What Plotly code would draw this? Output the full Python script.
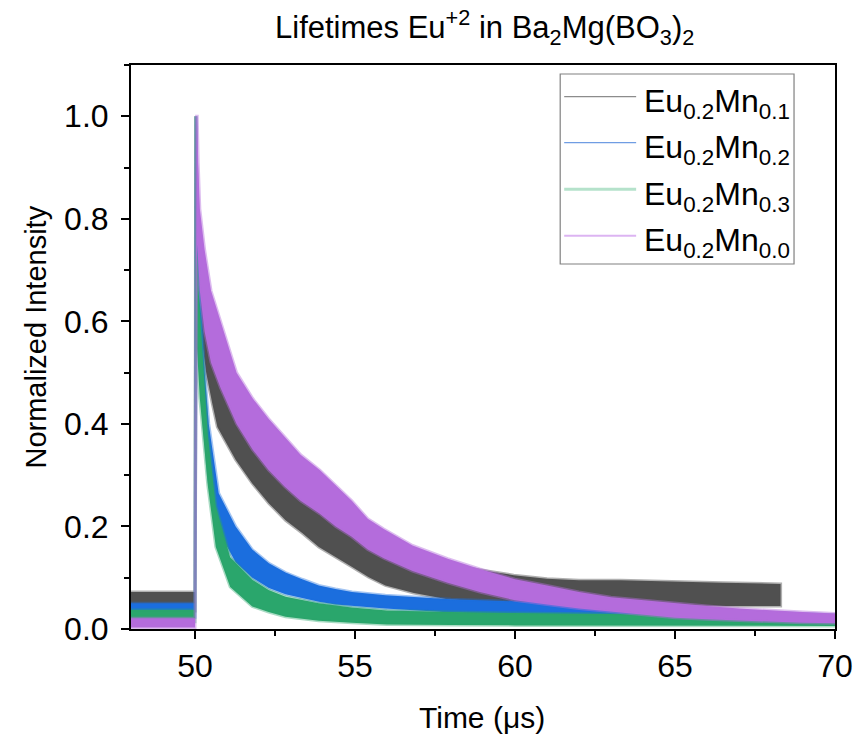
import plotly.graph_objects as go

# ---- data (envelopes of each noisy decay band) ----
LABELS = ["Eu<sub>0.2</sub>Mn<sub>0.1</sub>", "Eu<sub>0.2</sub>Mn<sub>0.2</sub>",
          "Eu<sub>0.2</sub>Mn<sub>0.3</sub>", "Eu<sub>0.2</sub>Mn<sub>0.0</sub>"]

T_GREY = [48.0, 50.0, 50.02, 50.04, 50.1, 50.2, 50.35, 50.54, 50.7, 51.27, 51.79, 52.31, 52.83,
          53.35, 53.87, 54.39, 54.91, 55.43, 55.95, 56.84, 57.88, 58.92, 59.96, 61.0, 62.0,
          63.3, 65.0, 66.5, 68.3]
GREY_HI = [0.072, 0.072, 1.0, 0.92, 0.80, 0.72, 0.65, 0.58, 0.53, 0.43, 0.38, 0.335, 0.295,
           0.265, 0.24, 0.215, 0.195, 0.178, 0.16, 0.14, 0.125, 0.115, 0.105, 0.098, 0.095,
           0.095, 0.092, 0.09, 0.088]
GREY_LO = [0.035, 0.035, 0.55, 0.6, 0.62, 0.57, 0.50, 0.44, 0.394, 0.33, 0.284, 0.245, 0.212,
           0.187, 0.16, 0.14, 0.121, 0.101, 0.085, 0.07, 0.058, 0.054, 0.052, 0.05, 0.049,
           0.047, 0.046, 0.045, 0.045]

T_BLUE = [48.0, 50.0, 50.03, 50.06, 50.15, 50.28, 50.43, 50.74, 51.27, 51.79, 52.31, 52.83,
          53.35, 53.87, 54.39, 54.91, 55.95, 58.0, 60.0, 62.0, 64.0, 66.0, 68.0, 70.0]
BLUE_HI = [0.05, 0.05, 1.0, 0.80, 0.68, 0.52, 0.40, 0.265, 0.20, 0.155, 0.128, 0.11, 0.097,
           0.085, 0.078, 0.072, 0.066, 0.058, 0.054, 0.048, 0.042, 0.036, 0.032, 0.028]
BLUE_LO = [0.023, 0.023, 0.55, 0.60, 0.52, 0.40, 0.29, 0.19, 0.13, 0.10, 0.08, 0.068, 0.06,
           0.053, 0.048, 0.045, 0.04, 0.032, 0.028, 0.025, 0.022, 0.02, 0.019, 0.018]

T_GREEN = [48.0, 50.0, 50.03, 50.06, 50.15, 50.4, 50.65, 51.1, 51.79, 52.3, 52.83, 53.87,
           54.9, 56.0, 58.0, 60.0, 65.0, 70.0]
GREEN_HI = [0.037, 0.037, 1.0, 0.75, 0.62, 0.38, 0.24, 0.14, 0.096, 0.076, 0.063, 0.05,
            0.042, 0.036, 0.033, 0.031, 0.028, 0.027]
GREEN_LO = [0.014, 0.014, 0.5, 0.55, 0.45, 0.28, 0.16, 0.082, 0.044, 0.033, 0.024, 0.016,
            0.012, 0.009, 0.008, 0.007, 0.006, 0.006]

T_PURPLE = [48.0, 50.0, 50.05, 50.07, 50.1, 50.15, 50.3, 50.5, 50.8, 51.0, 51.3, 51.8, 52.3,
            52.8, 53.3, 53.9, 54.4, 54.9, 55.4, 55.9, 56.8, 57.9, 58.9, 60.0, 61.0, 62.0,
            63.0, 64.0, 65.0, 66.0, 67.0, 68.0, 69.0, 70.0]
PURPLE_HI = [0.021, 0.021, 1.0, 1.0, 0.91, 0.82, 0.74, 0.66, 0.60, 0.56, 0.50, 0.45, 0.41,
             0.375, 0.34, 0.31, 0.28, 0.25, 0.215, 0.195, 0.163, 0.137, 0.117, 0.097, 0.085,
             0.072, 0.062, 0.056, 0.05, 0.045, 0.04, 0.036, 0.033, 0.03]
PURPLE_LO = [0.003, 0.003, 0.7, 0.75, 0.72, 0.66, 0.58, 0.52, 0.47, 0.44, 0.40, 0.35, 0.31,
             0.278, 0.25, 0.225, 0.2, 0.18, 0.155, 0.138, 0.113, 0.09, 0.072, 0.056, 0.048,
             0.04, 0.033, 0.028, 0.022, 0.019, 0.016, 0.014, 0.012, 0.011]

X_TICKS = [50, 55, 60, 65, 70]
Y_TICKS = [0.0, 0.2, 0.4, 0.6, 0.8, 1.0]

# ---- styling ----
BAND_COLORS = ["#505050", "#1b6ede", "#2aa66c", "#b46cdc"]
EDGE_COLORS = ["rgba(80,80,80,0.45)", "rgba(27,110,222,0.4)", "rgba(42,166,108,0.4)",
               "rgba(180,108,220,0.45)"]
LEG_COLORS = ["#8c8c8c", "#6f9de3", "#b5e2cb", "#dcb4f2"]
LEG_WIDTHS = [1.2, 1.2, 3, 2]
FONT = "Arial, Liberation Sans, sans-serif"

series = [(T_GREY, GREY_LO, GREY_HI), (T_BLUE, BLUE_LO, BLUE_HI),
          (T_GREEN, GREEN_LO, GREEN_HI), (T_PURPLE, PURPLE_LO, PURPLE_HI)]

fig = go.Figure()
for (t, lo, hi), col, ecol, lab in zip(series, BAND_COLORS, EDGE_COLORS, LABELS):
    fig.add_trace(go.Scatter(
        x=list(t) + list(t)[::-1], y=list(hi) + list(lo)[::-1],
        mode="lines", fill="toself", fillcolor=col,
        line=dict(color=ecol, width=3), name=lab, showlegend=False,
        hoverinfo="skip"))

# manual legend / titles (paper coordinates)
L, R, TOP, BOT = 130.5, 835.0, 65.0, 629.0
def px(x):
    return (x - L) / (R - L)
def py(y):
    return (BOT - y) / (BOT - TOP)

shapes = [dict(type="rect", xref="paper", yref="paper", x0=px(560), x1=px(794),
               y0=py(264), y1=py(74), line=dict(color="#808080", width=1.2),
               fillcolor="white", layer="above")]
annotations = []
rows = [96.7, 142.7, 189.3, 235.7]
for yrow, col, w, lab in zip(rows, LEG_COLORS, LEG_WIDTHS, LABELS):
    shapes.append(dict(type="line", xref="paper", yref="paper", x0=px(564), x1=px(636),
                       y0=py(yrow), y1=py(yrow), line=dict(color=col, width=w), layer="above"))
    annotations.append(dict(xref="paper", yref="paper", x=px(642), y=py(yrow + 7),
                            text=lab, showarrow=False, xanchor="left", yanchor="middle",
                            font=dict(family=FONT, size=32, color="black")))

annotations.append(dict(xref="paper", yref="paper", x=px(482), y=py(717), text="Time (\u03bcs)",
                        showarrow=False, xanchor="center", yanchor="middle",
                        font=dict(family=FONT, size=30, color="black")))
annotations.append(dict(xref="paper", yref="paper", x=px(35), y=py(337),
                        text="Normalized Intensity", textangle=-90, showarrow=False,
                        xanchor="center", yanchor="middle",
                        font=dict(family=FONT, size=29, color="black")))
annotations.append(dict(xref="paper", yref="paper", x=px(484), y=py(27),
                        text="Lifetimes Eu<sup>+2</sup> in Ba<sub>2</sub>Mg(BO<sub>3</sub>)<sub>2</sub>",
                        showarrow=False, xanchor="center", yanchor="middle",
                        font=dict(family=FONT, size=31, color="black")))

fig.update_layout(
    width=854, height=741,
    margin=dict(l=L, r=854 - R, t=TOP, b=741 - BOT, autoexpand=False),
    paper_bgcolor="white", plot_bgcolor="white",
    font=dict(family=FONT, color="black"),
    shapes=shapes, annotations=annotations, showlegend=False,
)
fig.update_xaxes(range=[48, 70], tickvals=X_TICKS, ticks="outside", ticklen=8, tickwidth=2,
                 tickcolor="black", showline=True, linewidth=2, linecolor="black", mirror=True,
                 showgrid=False, zeroline=False, automargin=False,
                 minor=dict(ticks="outside", ticklen=5, tickwidth=2, tickcolor="black", dtick=2.5),
                 tickfont=dict(family=FONT, size=32))
fig.update_yaxes(range=[0, 1.1], tickvals=Y_TICKS, tickformat=".1f", ticks="outside", ticklen=8,
                 tickwidth=2, tickcolor="black", showline=True, linewidth=2, linecolor="black",
                 mirror=True, showgrid=False, zeroline=False, ticklabelstandoff=6, automargin=False,
                 minor=dict(ticks="outside", ticklen=5, tickwidth=2, tickcolor="black", dtick=0.1),
                 tickfont=dict(family=FONT, size=32))

fig.write_html("out.html")
